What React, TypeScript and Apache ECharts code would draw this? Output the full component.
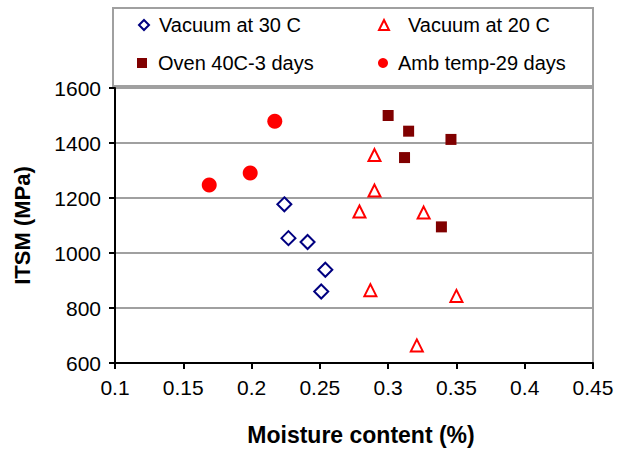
import React, { useEffect, useRef } from "react";
import * as echarts from "echarts";

const seriesNames = ["Vacuum at 30 C", "Vacuum at 20 C", "Oven 40C-3 days", "Amb temp-29 days"];

const vacuum30X = [0.224, 0.227, 0.241, 0.254, 0.251];
const vacuum30Y = [1177, 1054, 1040, 939, 860];

const vacuum20X = [0.29, 0.29, 0.279, 0.326, 0.287, 0.35, 0.321];
const vacuum20Y = [1356, 1227, 1151, 1147, 865, 844, 664];

const oven40X = [0.3, 0.315, 0.346, 0.312, 0.339];
const oven40Y = [1500, 1443, 1413, 1347, 1095];

const ambX = [0.217, 0.199, 0.169];
const ambY = [1479, 1291, 1247];

const xAxisMin = 0.1;
const xAxisMax = 0.45;
const xAxisStep = 0.05;
const yAxisMin = 600;
const yAxisMax = 1600;
const yAxisStep = 200;

const xTitle = "Moisture content (%)";
const yTitle = "ITSM (MPa)";

const pairs = (xs: number[], ys: number[]) => xs.map((x, i) => [x, ys[i]]);

const FONT = "'Liberation Sans', Arial, sans-serif";

export default function App() {
  const ref = useRef<HTMLDivElement>(null);
  useEffect(() => {
    if (!ref.current) return;
    const chart = echarts.init(ref.current, null, { renderer: "svg" });
    const legendText = { fontFamily: FONT, fontSize: 20, color: "#000", lineHeight: 20 };
    const mkLegend = (name: string, left: number, top: number, icon: string, itemStyle: any, padLeft: number) => ({
      data: [{ name, icon, itemStyle }],
      left,
      top,
      padding: 0,
      itemWidth: 10,
      itemHeight: 10,
      selectedMode: false,
      textStyle: { ...legendText, padding: [0, 0, 0, padLeft] },
    });
    chart.setOption({
      animation: false,
      backgroundColor: "#fff",
      grid: {
        left: 115,
        right: 36,
        top: 88,
        bottom: 85,
        show: true,
        borderColor: "#a0a0a0",
        borderWidth: 2,
        backgroundColor: "transparent",
      },
      graphic: [
        {
          type: "rect",
          shape: { x: 113, y: 8, width: 480, height: 78 },
          style: { fill: "#fff", stroke: "#a0a0a0", lineWidth: 2 },
          z: -1,
        },
      ],
      legend: [
        mkLegend(seriesNames[0], 138, 15, "diamond", { color: "#fff", borderColor: "#000080", borderWidth: 2 }, 5),
        mkLegend(seriesNames[1], 378, 15, "triangle", { color: "#fff", borderColor: "#ff0000", borderWidth: 2 }, 14),
        mkLegend(seriesNames[2], 137, 53, "rect", { color: "#800000", borderWidth: 0 }, 6),
        mkLegend(seriesNames[3], 378, 53, "circle", { color: "#ff0000", borderWidth: 0 }, 5),
      ],
      xAxis: {
        type: "value",
        min: xAxisMin,
        max: xAxisMax,
        interval: xAxisStep,
        name: xTitle,
        nameLocation: "middle",
        nameGap: 60,
        nameTextStyle: {
          fontFamily: FONT,
          fontSize: 23,
          fontWeight: "bold",
          color: "#000",
          padding: [0, 0, 0, 14],
        },
        axisLine: { onZero: false, lineStyle: { color: "#000", width: 2 } },
        axisTick: { show: true, length: 6, lineStyle: { color: "#000", width: 2 } },
        axisLabel: { fontFamily: FONT, fontSize: 21, color: "#000", margin: 14 },
        splitLine: { show: false },
      },
      yAxis: {
        type: "value",
        min: yAxisMin,
        max: yAxisMax,
        interval: yAxisStep,
        name: yTitle,
        nameLocation: "middle",
        nameRotate: 90,
        nameGap: 82,
        nameTextStyle: { fontFamily: FONT, fontSize: 22, fontWeight: "bold", color: "#000" },
        axisLine: { onZero: false, lineStyle: { color: "#000", width: 2 } },
        axisTick: { show: true, length: 6, lineStyle: { color: "#000", width: 2 } },
        axisLabel: {
          fontFamily: FONT,
          fontSize: 21,
          color: "#000",
          margin: 14,
          formatter: (v: number) => String(v),
        },
        splitLine: { show: true, lineStyle: { color: "#a0a0a0", width: 2 } },
      },
      series: [
        {
          name: seriesNames[0],
          type: "scatter",
          symbol: "diamond",
          symbolSize: 14,
          data: pairs(vacuum30X, vacuum30Y),
          itemStyle: { color: "#fff", borderColor: "#000080", borderWidth: 2, opacity: 1 },
        },
        {
          name: seriesNames[1],
          type: "scatter",
          symbol: "triangle",
          symbolSize: 12,
          data: pairs(vacuum20X, vacuum20Y),
          itemStyle: { color: "#fff", borderColor: "#ff0000", borderWidth: 2, opacity: 1 },
        },
        {
          name: seriesNames[2],
          type: "scatter",
          symbol: "rect",
          symbolSize: 11,
          data: pairs(oven40X, oven40Y),
          itemStyle: { color: "#800000", opacity: 1 },
        },
        {
          name: seriesNames[3],
          type: "scatter",
          symbol: "circle",
          symbolSize: 15,
          data: pairs(ambX, ambY),
          itemStyle: { color: "#ff0000", opacity: 1 },
        },
      ],
    });
    return () => chart.dispose();
  }, []);
  return (
    <div
      ref={ref}
      style={{ position: "fixed", left: 0, top: 0, width: 629, height: 451, background: "#fff" }}
    />
  );
}
